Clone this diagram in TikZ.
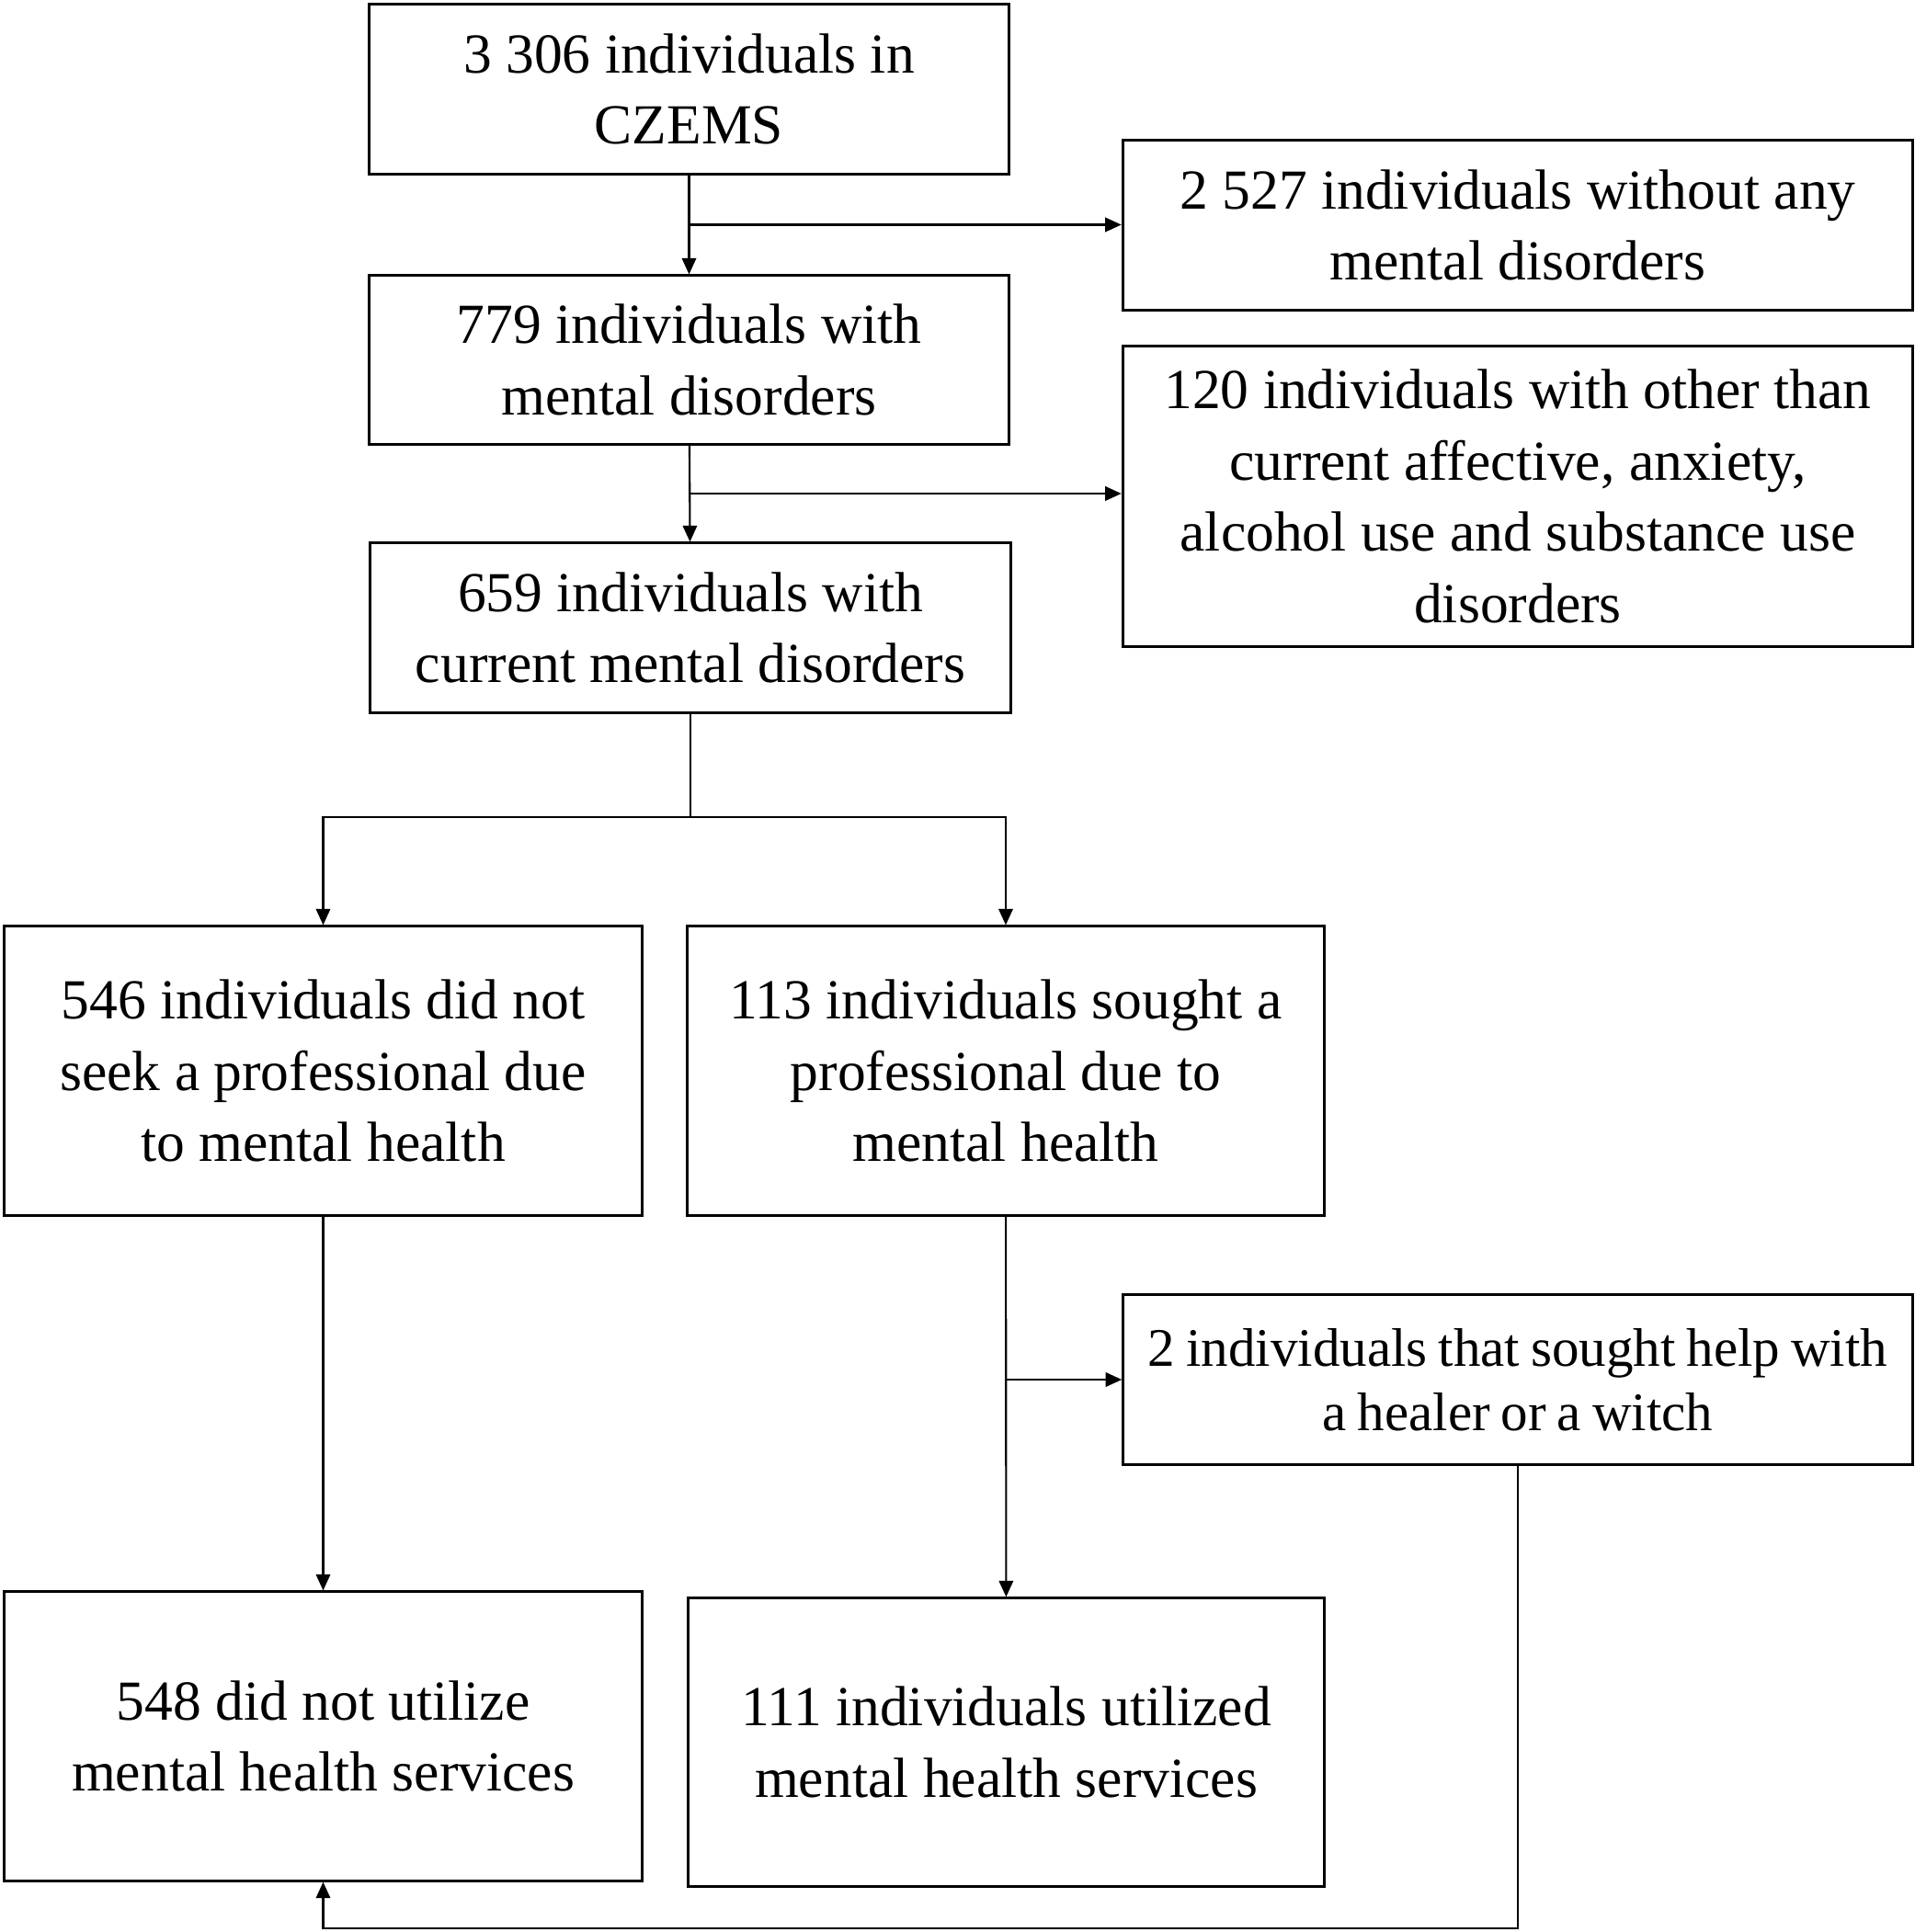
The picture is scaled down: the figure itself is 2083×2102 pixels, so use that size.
\documentclass[tikz,border=0pt]{standalone}
\usepackage{fontspec}
\setmainfont{Liberation Serif}
\usetikzlibrary{arrows.meta,%
		calc,%
		positioning}

\newcommand{\tightwords}{\spaceskip=0.2em\relax}
\tikzset{
  box/.style={draw, line width=0.85pt, align=center, inner sep=0pt,
    font=\fontsize{17.5pt}{22.1pt}\selectfont},
  link/.style={line width=0.6pt},
  arr/.style={link, -{Triangle[width=4.4pt,length=5pt]}},
}

\begin{document}
\begin{tikzpicture}[x=0.01cm,y=-0.01cm]
%Flusso dei partecipanti
\useasboundingbox (0,0) rectangle (2083,2102);
\node[box, minimum width=6.95cm, minimum height=1.84cm] (czems) at (749.5,97) {3 306 individuals in\\CZEMS};
\node[box, minimum width=8.59cm, minimum height=1.85cm] (none) at (1651,245) {2 527 individuals without any\\mental disorders};
\node[box, minimum width=6.95cm, minimum height=1.83cm] (ment) at (749.5,391.5) {779 individuals with\\mental disorders};
\node[box, minimum width=8.59cm, minimum height=3.26cm] (other) at (1651,540) {120 individuals with other than\\current affective, anxiety,\\alcohol use and substance use\\disorders};
\node[box, minimum width=6.96cm, minimum height=1.84cm] (curr) at (751,683) {659 individuals with\\current mental disorders};
\node[box, minimum width=6.93cm, minimum height=3.14cm] (noseek) at (351.5,1165) {546 individuals did not\\seek a professional due\\to mental health};
\node[box, minimum width=6.92cm, minimum height=3.14cm] (seek) at (1094,1165) {113 individuals sought a\\professional due to\\mental health};
\node[box, minimum width=8.58cm, minimum height=1.84cm,
  font=\fontsize{16.8pt}{19.8pt}\selectfont\tightwords] (healer) at (1651,1501) {2 individuals that sought help with\\a healer or a witch};
\node[box, minimum width=6.93cm, minimum height=3.14cm] (nouse) at (351.5,1889) {548 did not utilize\\mental health services};
\node[box, minimum width=6.91cm, minimum height=3.13cm] (use) at (1094.5,1895.5) {111 individuals utilized\\mental health services};
% collegamenti
\coordinate (j1) at ($(czems.south)!0.5!(ment.north)$);
\coordinate (j2) at ($(ment.south)!0.5!(curr.north)$);
\coordinate (j3) at (curr.south |- 0,889);
\coordinate (j4) at (seek.south |- healer.west);
\coordinate (lp) at (healer.south |- 0,2098);
\draw[arr] (czems) -- (ment);
\draw[arr] (j1) -- (j1 -| none.west);
\draw[arr] (ment) -- (curr);
\draw[arr] (j2) -- (j2 -| other.west);
\draw[link] (curr.south) -- (j3);
\draw[arr] (j3) -| (noseek.north);
\draw[arr] (j3) -| (seek.north);
\draw[arr] (noseek) -- (nouse);
\draw[arr] (seek) -- (use);
\draw[arr] (j4) -- (healer.west);
\draw[arr] (healer.south) -- (lp) -| (nouse.south);
\end{tikzpicture}
\end{document}
